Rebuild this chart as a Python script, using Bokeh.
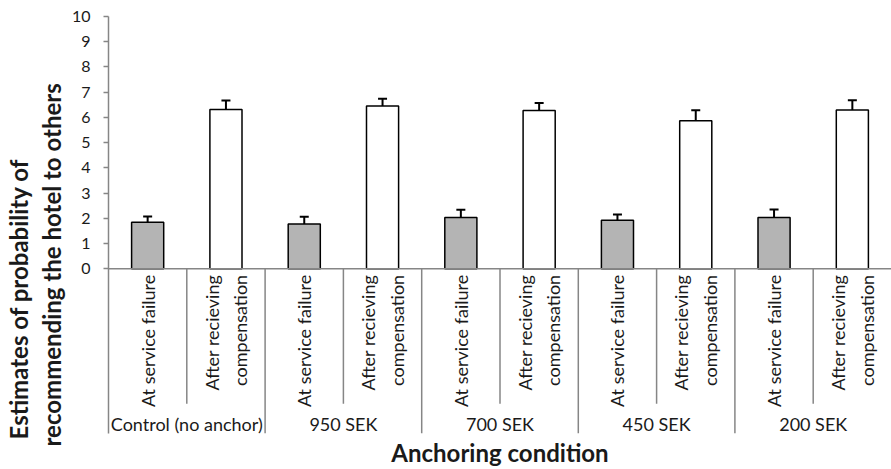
import math
from bokeh.plotting import figure
from bokeh.models import (Range1d, FixedTicker, ColumnDataSource, Whisker, TeeHead,
                          Span, Title)
from bokeh.core.properties import value
from bokeh.embed import file_html
from bokeh.resources import INLINE

# ---------------- data ----------------
groups = ["Control (no anchor)", "950 SEK", "700 SEK", "450 SEK", "200 SEK"]
conditions = ["At service failure", "After recieving\ncompensation"]
failure_means = [1.84, 1.77, 2.03, 1.92, 2.03]
failure_errors = [0.23, 0.29, 0.31, 0.23, 0.32]
compensation_means = [6.31, 6.45, 6.27, 5.87, 6.29]
compensation_errors = [0.36, 0.29, 0.30, 0.41, 0.39]
y_ticks = [0, 1, 2, 3, 4, 5, 6, 7, 8, 9, 10]
y_title_lines = ["Estimates of probability of", "recommending the hotel to others"]
x_title = "Anchoring condition"

# ---------------- styling ----------------
FONT = "Lato"
TEXT = "#1a1a1a"
AXIS_GRAY = "#868686"
BAR_GRAY = "#b4b4b4"

n_cond = len(conditions)
n_slots = len(groups) * n_cond

Y_MIN = -6.53           # bottom of the category-label area
SUB_SEP_BOTTOM = -5.35  # lower end of the separators between conditions
SUB_LABEL_TOP = -0.24
GROUP_LABEL_Y = -6.14

p = figure(width=891, height=469, output_backend="svg", toolbar_location=None,
           x_range=Range1d(0, n_slots), y_range=Range1d(Y_MIN, y_ticks[-1]),
           min_border_left=108, min_border_right=0, min_border_top=16,
           min_border_bottom=34)
p.outline_line_color = None
p.grid.visible = False
p.background_fill_color = "white"

# y axis
ya = p.yaxis[0]
ya.ticker = FixedTicker(ticks=y_ticks)
ya.axis_line_color = AXIS_GRAY
ya.axis_line_width = 1.5
ya.major_tick_line_color = AXIS_GRAY
ya.major_tick_line_width = 1.5
ya.major_tick_out = 5
ya.major_tick_in = 0
ya.minor_tick_line_color = None
ya.major_label_text_font = FONT
ya.major_label_text_font_size = "16px"
ya.major_label_text_color = TEXT
ya.major_label_standoff = 13

# x axis (title only)
xa = p.xaxis[0]
xa.ticker = FixedTicker(ticks=[])
xa.axis_line_color = None
xa.major_tick_line_color = None
xa.minor_tick_line_color = None
xa.major_label_text_font_size = "0px"
xa.major_label_standoff = 0
xa.axis_label = x_title
xa.axis_label_text_font = FONT
xa.axis_label_text_font_style = "bold"
xa.axis_label_text_font_size = "24px"
xa.axis_label_text_color = TEXT
xa.axis_label_standoff = 4

# bars
fail_x = [g * n_cond + 0 + 0.5 for g in range(len(groups))]
comp_x = [g * n_cond + 1 + 0.5 for g in range(len(groups))]

fail_src = ColumnDataSource(dict(
    x=fail_x, top=failure_means,
    upper=[m + e for m, e in zip(failure_means, failure_errors)],
    lower=[m - e for m, e in zip(failure_means, failure_errors)]))
comp_src = ColumnDataSource(dict(
    x=comp_x, top=compensation_means,
    upper=[m + e for m, e in zip(compensation_means, compensation_errors)],
    lower=[m - e for m, e in zip(compensation_means, compensation_errors)]))

BAR_W = 0.41
p.vbar(x="x", top="top", bottom=0, width=BAR_W, source=fail_src,
       fill_color=BAR_GRAY, line_color="black", line_width=1.5)
p.vbar(x="x", top="top", bottom=0, width=BAR_W, source=comp_src,
       fill_color="white", line_color="black", line_width=1.5)

for src in (fail_src, comp_src):
    w = Whisker(source=src, base="x", upper="upper", lower="lower",
                line_color="black", line_width=2,
                upper_head=TeeHead(size=9, line_color="black", line_width=2),
                lower_head=TeeHead(size=9, line_color="black", line_width=2))
    p.add_layout(w)

# baseline (x axis line)
p.add_layout(Span(location=0, dimension="width", line_color=AXIS_GRAY,
                  line_width=1.5))

# separators in the category area
sub_sep_x = [g * n_cond + c for g in range(len(groups)) for c in range(1, n_cond)]
grp_sep_x = [g * n_cond for g in range(1, len(groups))]
p.segment(x0=sub_sep_x, x1=sub_sep_x, y0=[0] * len(sub_sep_x),
          y1=[SUB_SEP_BOTTOM] * len(sub_sep_x), line_color=AXIS_GRAY, line_width=1.5)
p.segment(x0=grp_sep_x, x1=grp_sep_x, y0=[0] * len(grp_sep_x),
          y1=[Y_MIN] * len(grp_sep_x), line_color=AXIS_GRAY, line_width=1.5)

# condition labels (rotated)
lab_x = [g * n_cond + c + 0.5 for g in range(len(groups)) for c in range(n_cond)]
lab_t = [conditions[c] for g in range(len(groups)) for c in range(n_cond)]
p.text(x=lab_x, y=[SUB_LABEL_TOP] * len(lab_x), text=lab_t, angle=math.pi / 2,
       text_align="right", text_baseline="middle", text_font=value(FONT),
       text_font_size="18px", text_color=TEXT, text_line_height=1.3)

# group labels
gx = [g * n_cond + n_cond / 2 for g in range(len(groups))]
p.text(x=gx, y=[GROUP_LABEL_Y] * len(gx), text=groups, text_align="center",
       text_baseline="middle", text_font=value(FONT), text_font_size="18px",
       text_color=TEXT)

# y-axis title: two lines, inner line added first (closest to the axis)
for line, off, so in ((y_title_lines[1], -13, 5), (y_title_lines[0], -6, 0)):
    p.add_layout(Title(text=line, align="left", offset=off, standoff=so,
                       text_font=FONT, text_font_style="bold",
                       text_font_size="24px", text_color=TEXT), "left")

open("out.html", "w").write(file_html(p, INLINE))
